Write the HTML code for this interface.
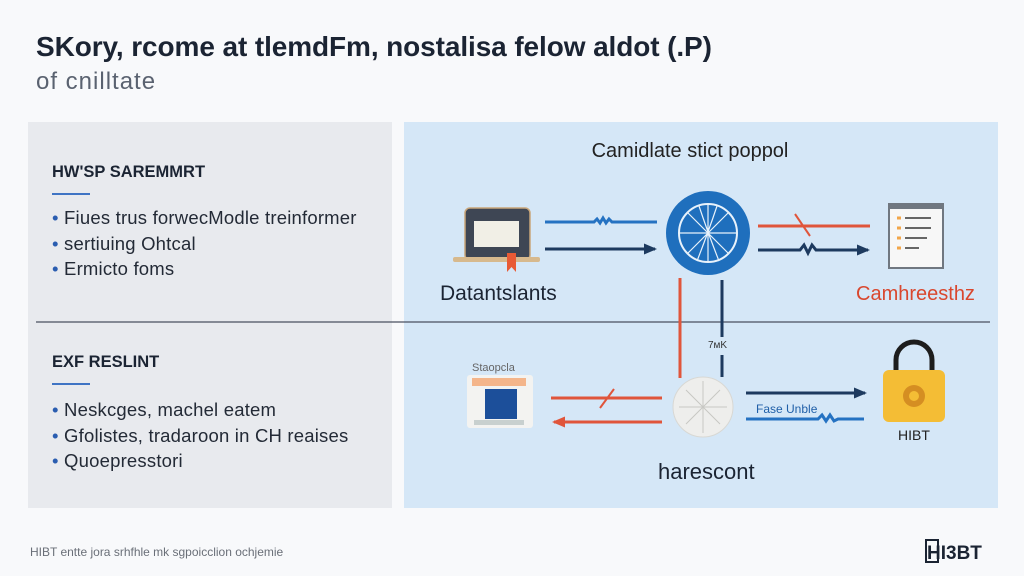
<!DOCTYPE html>
<html><head><meta charset="utf-8"><style>
body{margin:0;width:1024px;height:576px;background:#f8f9fb;font-family:"Liberation Sans",sans-serif;position:relative;overflow:hidden}
.t{position:absolute;white-space:nowrap}
</style></head><body>
<div class="t" style="left:36px;top:31px;font-size:28px;font-weight:bold;color:#1b2433;letter-spacing:-0.1px">SKory, rcome at tlemdFm, nostalisa felow aldot (.P)</div>
<div class="t" style="left:36px;top:68px;font-size:24px;color:#5a6270;letter-spacing:1px">of cnilltate</div>
<div style="position:absolute;left:28px;top:122px;width:364px;height:386px;background:#e8eaee"></div>
<div style="position:absolute;left:404px;top:122px;width:594px;height:386px;background:#d5e7f7"></div>
<div class="t" style="left:52px;top:163px;font-size:16.5px;font-weight:bold;color:#1b2433">HW'SP SAREMMRT</div>
<div style="position:absolute;left:52px;top:193px;width:38px;height:2px;background:#3f74c4"></div>
<div class="t" style="left:52px;top:205px;font-size:18.5px;color:#232a36;line-height:25.5px;letter-spacing:0.2px"><span style="color:#2a5db0">•</span> Fiues trus forwecModle treinformer<br><span style="color:#2a5db0">•</span> sertiuing Ohtcal<br><span style="color:#2a5db0">•</span> Ermicto foms</div>
<div class="t" style="left:52px;top:353px;font-size:16.5px;font-weight:bold;color:#1b2433">EXF RESLINT</div>
<div style="position:absolute;left:52px;top:383px;width:38px;height:2px;background:#3f74c4"></div>
<div class="t" style="left:52px;top:397px;font-size:18.5px;color:#232a36;line-height:25.5px;letter-spacing:0.2px"><span style="color:#2a5db0">•</span> Neskcges, machel eatem<br><span style="color:#2a5db0">•</span> Gfolistes, tradaroon in CH reaises<br><span style="color:#2a5db0">•</span> Quoepresstori</div>
<svg style="position:absolute;left:0;top:0" width="1024" height="576">
<defs><marker id="a" markerUnits="userSpaceOnUse" markerWidth="13" markerHeight="11" refX="11" refY="5.5" orient="auto"><path d="M0,0L13,5.5L0,11z" fill="#1d3a5f"/></marker>
<marker id="r" markerUnits="userSpaceOnUse" markerWidth="13" markerHeight="11" refX="11" refY="5.5" orient="auto"><path d="M0,0L13,5.5L0,11z" fill="#e0553b"/></marker></defs>
<line x1="36" y1="322" x2="990" y2="322" stroke="#4a5060" stroke-width="1.2"/>
<rect x="465" y="208" width="65" height="52" rx="5" fill="#3e4654" stroke="#c9a67a" stroke-width="1.5"/>
<rect x="474" y="221" width="45" height="26" fill="#f1efe6"/>
<rect x="453" y="257" width="87" height="5" rx="2" fill="#d7b98d"/>
<path d="M507,253h9v19l-4.5,-5l-4.5,5z" fill="#e85a35"/>
<path d="M545,222H594l3,-3l3,4l3,-5l3,5l3,-4l3,3H657" stroke="#2572c2" stroke-width="3" fill="none"/>
<line x1="545" y1="249" x2="655" y2="249" stroke="#1d3a5f" stroke-width="3" marker-end="url(#a)"/>
<circle cx="708" cy="233" r="42" fill="#1f6fbd"/>
<circle cx="708" cy="233" r="29" fill="none" stroke="#e8f2fb" stroke-width="2"/>
<path d="M708,204v58M679,233h58M688,213l40,40M728,213l-40,40M699,206q9,27,20,55M717,206q-9,27,-20,55" stroke="#e8f2fb" stroke-width="1.2" fill="none"/>
<line x1="758" y1="226" x2="870" y2="226" stroke="#e0553b" stroke-width="3"/>
<line x1="795" y1="214" x2="810" y2="236" stroke="#e0553b" stroke-width="2"/>
<path d="M758,250H800l4,-5l4,8l4,-8l4,5H868" stroke="#1d3a5f" stroke-width="3" fill="none" marker-end="url(#a)"/>
<rect x="889" y="204" width="54" height="64" fill="#f7f7f7" stroke="#707780" stroke-width="2"/>
<rect x="889" y="204" width="54" height="5" fill="#707780"/>
<path d="M897,218h4M897,228h4M897,238h4M897,248h4" stroke="#f2a64a" stroke-width="3"/>
<path d="M905,218h26M905,228h26M905,238h22M905,248h14" stroke="#666" stroke-width="2"/>
<line x1="680" y1="278" x2="680" y2="378" stroke="#e0553b" stroke-width="3"/>
<line x1="722" y1="280" x2="722" y2="337" stroke="#1d3a5f" stroke-width="3"/>
<line x1="722" y1="355" x2="722" y2="377" stroke="#1d3a5f" stroke-width="3"/>
<rect x="467" y="375" width="66" height="53" rx="3" fill="#f3f3f1"/>
<rect x="472" y="378" width="54" height="8" fill="#f4b58a"/>
<rect x="485" y="389" width="32" height="30" fill="#1c4f9a"/>
<rect x="474" y="420" width="50" height="5" fill="#c8d0cf"/>
<text x="472" y="371" font-size="11" fill="#666">Staopcla</text>
<line x1="551" y1="398" x2="662" y2="398" stroke="#e0553b" stroke-width="3"/>
<line x1="600" y1="408" x2="614" y2="389" stroke="#e0553b" stroke-width="2"/>
<line x1="662" y1="422" x2="554" y2="422" stroke="#e0553b" stroke-width="3" marker-end="url(#r)"/>
<circle cx="703" cy="407" r="30" fill="#eeeeec" stroke="#d8d8d4"/>
<path d="M703,381v52M679,407h48M686,390l34,34M720,390l-34,34" stroke="#c8c8c4" stroke-width="1" fill="none"/>
<line x1="746" y1="393" x2="865" y2="393" stroke="#1d3a5f" stroke-width="3" marker-end="url(#a)"/>
<path d="M746,419H818l4,-4l4,6l4,-6l4,6l4,-2H864" stroke="#2572c2" stroke-width="3" fill="none"/>
<path d="M896,372v-12a18,18 0 0 1 36,0v12" stroke="#1d1d1d" stroke-width="5" fill="none"/>
<rect x="883" y="370" width="62" height="52" rx="6" fill="#f4bd35"/>
<circle cx="914" cy="396" r="11" fill="#d58e22"/><circle cx="914" cy="396" r="5" fill="#f4bd35"/>
<text x="690" y="157" font-size="20" text-anchor="middle" fill="#222">Camidlate stict poppol</text>
<text x="440" y="300" font-size="21" fill="#1b2433">Datantslants</text>
<text x="856" y="300" font-size="20" fill="#d9472e">Camhreesthz</text>
<text x="756" y="413" font-size="12" fill="#1f5fa8">Fase Unble</text>
<text x="708" y="348" font-size="10" fill="#333">7ᴍK</text>
<text x="898" y="440" font-size="14" fill="#222">HIBT</text>
<text x="658" y="479" font-size="22" fill="#1b2433">harescont</text>
<text x="30" y="556" font-size="12" fill="#6a6f78">HIBT entte jora srhfhle mk sgpoicclion ochjemie</text>
<rect x="926" y="540" width="12" height="22" fill="none" stroke="#1b2433" stroke-width="2"/>
<text x="927" y="559" font-size="19" font-weight="bold" fill="#1b2433">HI3BT</text>
</svg>
</body></html>
